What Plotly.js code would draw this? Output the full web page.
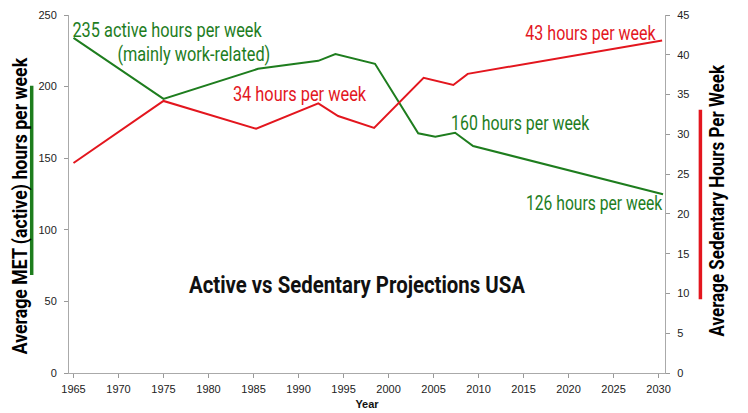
<!DOCTYPE html>
<html>
<head>
<meta charset="utf-8">
<script src="https://cdn.plot.ly/plotly-3.0.1.min.js"></script>
<style>
html,body{margin:0;padding:0;background:#fff;}
#chart{width:748px;height:413px;}
</style>
</head>
<body>
<div id="chart"></div>
<script>
// ---- data ----
const activeYears = [1965, 1975, 1985.5, 1992.2, 1994.1, 1998.5, 2003.3, 2005.2, 2007.4, 2009.4, 2030.5];
const activeHours = [234, 191.4, 212.4, 218, 222.7, 215.9, 167.4, 165, 167.8, 158.5, 124.8];
const sedentaryYears = [1965, 1975, 1985.3, 1992.2, 1994.4, 1998.4, 2003.9, 2007.2, 2008.8, 2030.4];
const sedentaryHours = [26.4, 34.2, 30.7, 33.9, 32.3, 30.8, 37.1, 36.2, 37.6, 41.8];
const xTickVals = [1965, 1970, 1975, 1980, 1985, 1990, 1995, 2000, 2005, 2010, 2015, 2020, 2025, 2030];
const leftTickVals = [0, 50, 100, 150, 200, 250];
const rightTickVals = [0, 5, 10, 15, 20, 25, 30, 35, 40, 45];
const labelTexts = ['235 active hours per week', '(mainly work-related)', '34 hours per week',
  '43 hours per week', '160 hours per week', '126 hours per week'];
const chartTitle = 'Active vs Sedentary Projections USA';
const leftTitle = 'Average MET (active) hours per week';
const rightTitle = 'Average Sedentary Hours Per Week';

// ---- style ----
const GREEN = '#1e7d1e';
const RED = '#e3161e';
const FONT = 'Roboto, "Liberation Sans", sans-serif';
const TICKF = {family: '"Liberation Sans", Arial, sans-serif', size: 11, color: '#222'};
// [x, y (paper), colour, size, bold, angle, target rendered length in px]
const labelStyle = [
  [0.1656, 0.958, GREEN, 20, false, 0, 190],
  [0.2101, 0.890, GREEN, 20, false, 0, 153],
  [0.3871, 0.778, RED, 20, false, 0, 134],
  [0.8762, 0.951, RED, 20, false, 0, 131],
  [0.7570, 0.697, GREEN, 20, false, 0, 139],
  [0.8812, 0.475, GREEN, 20, false, 0, 137]
];
const titleStyle = [0.4836, 0.245, '#111', 24, true, 0, 337];
const leftTitleStyle = [-0.0819, 0.4653, '#000', 20, true, -90, 297];
const rightTitleStyle = [1.0867, 0.4807, '#000', 20, true, -90, 272];

const traces = [
  {x: activeYears, y: activeHours, type: 'scatter', mode: 'lines', name: 'Active',
   line: {color: GREEN, width: 2}, yaxis: 'y'},
  {x: sedentaryYears, y: sedentaryHours, type: 'scatter', mode: 'lines', name: 'Sedentary',
   line: {color: RED, width: 2}, yaxis: 'y2'}
];

function ann(text, s) {
  return {text: s[4] ? '<b>' + text + '</b>' : text, xref: 'paper', yref: 'paper', x: s[0], y: s[1],
    xanchor: 'center', yanchor: 'middle', showarrow: false, textangle: s[5],
    font: {family: FONT, size: s[3], color: s[2]}};
}

const allStyles = labelStyle.concat([titleStyle, leftTitleStyle, rightTitleStyle]);
const annotations = labelTexts.map((t, i) => ann(t, labelStyle[i]))
  .concat([ann(chartTitle, titleStyle), ann(leftTitle, leftTitleStyle), ann(rightTitle, rightTitleStyle)]);

const axisCommon = {ticks: 'outside', ticklen: 4, tickcolor: '#999', showline: true, linecolor: '#aaa',
  linewidth: 1, showgrid: false, zeroline: false, tickfont: TICKF};

const layout = {
  width: 748, height: 413,
  margin: {l: 69, r: 83, t: 15, b: 40},
  paper_bgcolor: '#fff', plot_bgcolor: '#fff',
  showlegend: false,
  xaxis: Object.assign({range: [1964.5, 2030.72], tickvals: xTickVals, ticklabelstandoff: 2,
    title: {text: '<b>Year</b>', font: {family: '"Liberation Sans", Arial, sans-serif', size: 11, color: '#111'}, standoff: 6}}, axisCommon),
  yaxis: Object.assign({range: [0, 250], tickvals: leftTickVals, ticklabelstandoff: 5}, axisCommon),
  yaxis2: Object.assign({range: [0, 45], tickvals: rightTickVals, overlaying: 'y', side: 'right', ticklabelstandoff: 5}, axisCommon),
  annotations: annotations,
  shapes: [
    {type: 'line', xref: 'paper', yref: 'paper', x0: -0.0626, x1: -0.0626, y0: 0.2735, y1: 0.8026,
     line: {color: GREEN, width: 3.5}},
    {type: 'line', xref: 'paper', yref: 'paper', x0: 1.0594, x1: 1.0594, y0: 0.2063, y1: 0.7355,
     line: {color: RED, width: 3.5}}
  ]
};

Plotly.newPlot('chart', traces, layout, {displayModeBar: false, staticPlot: true}).then(gd => {
  // condense the label text horizontally (reference uses a condensed face)
  gd.querySelectorAll('g.annotation').forEach(g => {
    const idx = +g.getAttribute('data-index');
    const txt = g.querySelector('text.annotation-text');
    if (!txt) return;
    const bb = txt.getBBox();
    const f = allStyles[idx][6] / bb.width;
    const cx = bb.x + bb.width / 2;
    const prev = txt.getAttribute('transform') || '';
    txt.setAttribute('transform', prev + ' translate(' + cx + ',0) scale(' + f + ',1) translate(' + (-cx) + ',0)');
  });
});
</script>
</body>
</html>
